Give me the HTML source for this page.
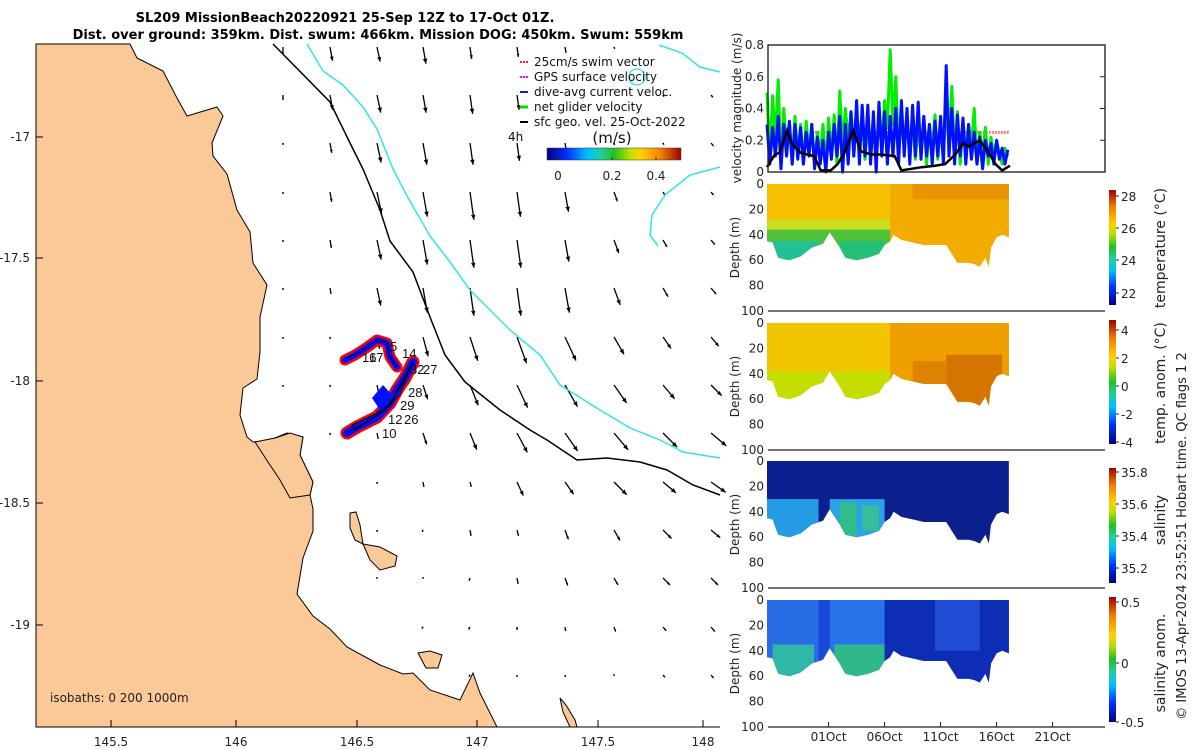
<!DOCTYPE html>
<html><head><meta charset="utf-8"><style>
html,body{margin:0;padding:0;background:#fff;}
svg{display:block;font-family:"DejaVu Sans","Liberation Sans",sans-serif;}
.t{font-size:12px;fill:#222;}
</style></head><body>
<svg id="fig" width="1200" height="750" viewBox="0 0 1200 750" xmlns="http://www.w3.org/2000/svg">
<defs>
<linearGradient id="jet" x1="0" y1="0" x2="1" y2="0">
<stop offset="0" stop-color="#00007f"/><stop offset="0.15" stop-color="#0030ff"/><stop offset="0.3" stop-color="#00c0ff"/><stop offset="0.4" stop-color="#20d0a0"/><stop offset="0.5" stop-color="#20c020"/><stop offset="0.62" stop-color="#c0e000"/><stop offset="0.7" stop-color="#ffd000"/><stop offset="0.85" stop-color="#f08000"/><stop offset="1" stop-color="#a00000"/></linearGradient>
<linearGradient id="jetv" x1="0" y1="1" x2="0" y2="0">
<stop offset="0" stop-color="#00007f"/><stop offset="0.15" stop-color="#0030ff"/><stop offset="0.3" stop-color="#00c0ff"/><stop offset="0.4" stop-color="#20d0a0"/><stop offset="0.5" stop-color="#20c020"/><stop offset="0.62" stop-color="#c0e000"/><stop offset="0.7" stop-color="#ffd000"/><stop offset="0.85" stop-color="#f08000"/><stop offset="1" stop-color="#a00000"/></linearGradient>
</defs>
<text x="345" y="22" text-anchor="middle" font-weight="bold" font-size="13">SL209 MissionBeach20220921 25-Sep 12Z to 17-Oct 01Z.</text>
<text x="378" y="39" text-anchor="middle" font-weight="bold" font-size="13">Dist. over ground: 359km. Dist. swum: 466km. Mission DOG: 450km. Swum: 559km</text>
<g id="map"></g>
<g id="right"></g>
<text transform="translate(1186,536) rotate(-90)" text-anchor="middle" font-size="13" fill="#222">© IMOS 13-Apr-2024 23:52:51 Hobart time. QC flags 1  2</text>
</svg>
<script>
const NS="http://www.w3.org/2000/svg";
// ---- map arrows data ----
const arrowCols=[283,330,377,423,470,517,565,614,663,711];
const arrowRows=[47,95,143,192,240,288,337,385,433,482,530,578,627,675];
const arrowLen=[
[7,14,15,17,12,10,6,2,0,0],[5,15,18,18,19,15,0,0,2,3],[2,10,20,22,22,18,16,2,2,4],
[2,10,22,25,28,25,20,10,4,4],[2,8,20,25,28,28,22,14,8,6],[2,6,18,25,28,28,25,18,10,8],
[2,2,12,20,25,28,26,20,14,12],[2,2,10,15,22,25,25,22,18,15],[0,2,6,12,18,22,22,22,20,20],
[0,0,2,5,5,15,15,18,17,18],[0,0,2,2,6,6,10,12,12,12],[0,0,1,1,3,6,8,8,10,10],
[0,0,0,2,3,3,4,5,5,6],[0,0,0,0,2,2,2,1,3,4]];
const arrowAng=[
[0,10,12,10,8,8,10,20,30,40],[0,10,12,10,8,8,10,20,30,40],[0,10,12,10,8,8,10,20,30,40],
[0,10,12,10,8,8,10,20,30,40],[0,10,12,10,8,8,10,20,30,40],[0,10,12,10,8,8,10,20,30,40],
[0,10,12,15,18,20,25,30,35,40],[0,10,12,18,22,25,30,35,40,45],[0,10,12,18,22,28,35,40,45,50],
[0,0,5,10,15,25,35,45,50,55],[0,0,5,-20,10,15,20,30,45,50],[0,0,0,-30,-20,10,20,30,45,45],
[0,0,0,-40,-30,0,10,20,40,40],[0,0,0,-40,-30,0,10,20,40,40]];
// ---- velocity data ----
const velStep=0.25;
const greenVals=[0.50,0.10,0.48,0.20,0.58,0.05,0.40,0.15,0.30,0.05,0.35,0.10,0.30,0.05,0.32,0.12,0.30,0.05,0.25,0.10,0.30,0.02,0.34,0.10,0.36,0.05,0.51,0.15,0.40,0.20,0.38,0.10,0.30,0.25,0.35,0.08,0.28,0.15,0.34,0.10,0.30,0.20,0.45,0.28,0.77,0.30,0.60,0.10,0.35,0.15,0.30,0.10,0.32,0.08,0.30,0.12,0.35,0.05,0.30,0.15,0.36,0.08,0.30,0.10,0.40,0.20,0.54,0.10,0.38,0.05,0.30,0.10,0.30,0.15,0.40,0.05,0.25,0.10,0.28,0.05,0.22,0.10,0.20,0.12,0.05,0.15,0.10];
const blueVals=[0.30,0.05,0.28,0.10,0.35,0.02,0.30,0.10,0.32,0.05,0.30,0.08,0.28,0.05,0.25,0.10,0.30,0.02,0.22,0.05,0.20,0.00,0.25,0.08,0.30,0.10,0.35,0.00,0.30,0.05,0.38,0.10,0.45,0.05,0.42,0.10,0.42,0.05,0.38,0.00,0.44,0.10,0.38,0.05,0.35,0.10,0.40,0.05,0.45,0.10,0.40,0.05,0.42,0.10,0.44,0.08,0.35,0.10,0.30,0.05,0.32,0.10,0.35,0.05,0.67,0.10,0.40,0.05,0.36,0.10,0.34,0.05,0.30,0.08,0.25,0.05,0.22,0.02,0.20,0.10,0.18,0.05,0.20,0.08,0.15,0.05,0.14];
const blackDays=[0,0.7,1.1,1.8,2.2,3,3.6,4.2,4.8,5.7,6.3,6.9,7.7,8.4,9.3,10.2,11.4,12,12.9,13.8,15,15.9,16.8,17.5,18,19,19.8,20.4,21,21.7];
const blackVals=[0.03,0.11,0.12,0.26,0.18,0.12,0.11,0.10,0.01,0.01,0.05,0.12,0.26,0.13,0.11,0.11,0.10,0.01,0.02,0.03,0.04,0.05,0.11,0.18,0.16,0.20,0.12,0.05,0.01,0.04];
const velTicks=[0,0.2,0.4,0.6,0.8];
// ---- section data ----
const bottomDays=[0,0.5,1,2,3,4,5,5.6,6.5,7,8,9,10,10.5,11,11.3,12,13,14,15,16,16.5,17,18,18.5,19,19.5,19.8,20,20.5,21,21.6];
const bottomDepth=[45,46,58,60,57,50,47,38,50,58,60,58,55,48,45,40,44,46,48,48,48,55,62,62,63,65,58,65,50,42,40,42];
const depthTicks=[0,20,40,60,80,100];
const dateTicks=["01Oct","06Oct","11Oct","16Oct","21Oct"];
const dateTickDays=[5.5,10.5,15.5,20.5,25.5];
const tempLayers=[[0,11,35,100,"#3cc040"],[0,4.6,45,100,"#20c0a0"],[6.5,10.5,45,100,"#20c080"],[0,11,28,36,"#c8e020"],[11,22,0,100,"#f2a800"],[13,21.6,0,12,"#e89000"]];
const tanomLayers=[[0,11,38,100,"#c0e000"],[11,22,0,100,"#ee9c00"],[16,21,25,100,"#d07000"],[13,16,30,100,"#dc8000"]];
const salLayers=[[0,4.6,30,100,"#28a8f0"],[5.6,10.5,30,100,"#30b0f0"],[6.5,8,33,60,"#30c080"],[8.5,10,35,55,"#38c090"]];
const sanomLayers=[[0,4.6,0,100,"#2a70e8"],[5.6,10.5,0,100,"#2a78ec"],[0.5,4.2,35,100,"#30c0a0"],[6,10.5,35,100,"#30c080"],[10.5,22,0,100,"#0c2ab0"],[15,19,0,40,"#2050d8"]];
const panels=[
 {top:184,base:"#f5c000",layers:tempLayers,cb:[190,305],cbTicks:["28","26","24","22"],cbTickY:[196,228,260,293],label:"temperature (°C)",labelY:248,name:"temperature"},
 {top:323,base:"#f2c400",layers:tanomLayers,cb:[320,444],cbTicks:["4","2","0","-2","-4"],cbTickY:[330,358,386,414,442],label:"temp. anom. (°C)",labelY:383,name:"temp-anomaly"},
 {top:461,base:"#0c1f8f",layers:salLayers,cb:[468,583],cbTicks:["35.8","35.6","35.4","35.2"],cbTickY:[472,504,536,568],label:"salinity",labelY:520,name:"salinity"},
 {top:600,base:"#1a48d8",layers:sanomLayers,cb:[597,722],cbTicks:["0.5","0","-0.5"],cbTickY:[602,663,722],label:"salinity anom.",labelY:663,name:"salinity-anomaly"}];

function el(tag,attrs,parent){const e=document.createElementNS(NS,tag);for(const k in attrs)e.setAttribute(k,attrs[k]);parent.appendChild(e);return e;}
const map=document.getElementById('map');
const right=document.getElementById('right');

// ---------- MAP ----------
// arrows
arrowRows.forEach((y,r)=>arrowCols.forEach((x,c)=>{
 const L=arrowLen[r][c]; if(L<=0)return;
 const a=arrowAng[r][c]*Math.PI/180;
 const ex=x+L*Math.sin(a), ey=y+L*Math.cos(a);
 const g=el('g',{},map);
 
 
 el('line',{x1:x,y1:y,x2:ex,y2:ey,stroke:'#000','stroke-width':1.3},g);
 const h=Math.max(2,Math.min(5,L*0.3)), ux=Math.sin(a), uy=Math.cos(a);
 el('polygon',{points:`${ex},${ey} ${ex-h*ux+h*0.45*uy},${ey-h*uy-h*0.45*ux} ${ex-h*ux-h*0.45*uy},${ey-h*uy+h*0.45*ux}`,fill:'#000'},g);
}));
// isobaths
const iso=[
 ['isobath-1000m','#000',"273,44 330,102 350,143 363,169 380,210 390,241 413,272 430,317 445,355 465,382 500,410 530,430 547,440 577,460 607,458 640,462 667,470 693,485 720,495"],
 ['isobath-200m','#2ee6e6',"307,44 323,71 343,85 363,107 377,129 393,169 407,196 430,236 450,262 470,290 510,330 540,355 560,385 600,410 630,428 660,440 683,452 720,458"],
 ['isobath-200m-reef','#2ee6e6',"659,45 682,53 700,67 720,72"],
 ['isobath-200m-reef-2','#2ee6e6',"720,167 690,175 665,195 652,215 650,235 658,246"]];
iso.forEach(d=>{const p=el('polyline',{points:d[2],fill:'none',stroke:d[1],'stroke-width':1.5},map);
 });
const loop=el('circle',{cx:637,cy:77,r:8,fill:'none',stroke:'#2ee6e6','stroke-width':1.3},map);

// land
const land=el('polygon',{points:"36,44 130,44 137,58 163,71 177,98 187,116 217,107 223,116 212,143 213,156 227,174 237,210 250,232 253,263 267,285 260,317 260,352 257,379 243,388 240,415 247,437 253,442 270,440 287,433 303,437 300,455 313,482 310,495 313,509 313,531 303,558 297,594 313,616 330,629 347,647 380,665 403,674 413,673 430,690 460,700 473,673 480,693 497,727 36,727",fill:'#fbc997',stroke:'#000','stroke-width':1},map);

[["island-hinchinbrook","255,442 275,438 290,433 303,437 300,455 313,482 310,495 290,498 280,480 268,462"],
 ["island-palm","350,513 356,512 360,525 363,544 355,540 350,528"],
 ["island-magnetic","363,544 380,547 397,556 395,566 380,570 370,560"],
 ["island-bottom","418,653 430,651 442,655 438,668 426,668"],
 ["island-spit","560,698 566,705 575,720 577,727 570,727 563,712"]].forEach(d=>{
 const p=el('polygon',{points:d[1],fill:'#fbc997',stroke:'#000','stroke-width':1},map);
 });
// glider track
const tg=el('g',{},map);


const hook="345,360 355,355 366,348 377,340 387,343 390,357 397,367";
const leg="413,362 405,378 397,390 390,403 377,417 357,427 347,433";
[[hook,'#ff0000',11],[leg,'#ff0000',13],[hook,'#0010ff',6],[leg,'#0010ff',8]].forEach(d=>el('polyline',{points:d[0],fill:'none',stroke:d[1],'stroke-width':d[2],'stroke-linejoin':'round','stroke-linecap':'round'},tg));
el('polygon',{points:"372,398 383,385 392,395 380,410",fill:'#0010ff'},tg);
el('polyline',{points:"347,358 360,352 377,340 387,343 390,357 397,367",fill:'none',stroke:'#000','stroke-width':1},tg);
el('polyline',{points:"347,433 370,420 390,405 400,385 413,362 405,380 385,410 355,430 352,425 380,412 400,395 410,368",fill:'none',stroke:'#000','stroke-width':1},tg);
[["5",390,351],["14",402,358],["16",362,362],["17",369,362],["32",410,374],["27",423,374],["28",408,397],["29",400,410],["26",404,424],["12",388,424],["10",382,438]].forEach(d=>{
 const t=el('text',{x:d[1],y:d[2],'font-size':13,fill:'#111','font-family':'Liberation Sans, sans-serif'},map);t.textContent=d[0];
 });
// axes
el('line',{x1:36,y1:44,x2:36,y2:727,stroke:'#000','stroke-width':1},map);
el('line',{x1:36,y1:727,x2:720,y2:727,stroke:'#000','stroke-width':1},map);
const lonT=["145.5","146","146.5","147","147.5","148"], lonX=[111,236,357,477,598,703];
lonT.forEach((s,i)=>{el('line',{x1:lonX[i],y1:727,x2:lonX[i],y2:720,stroke:'#000'},map);
 const t=el('text',{x:lonX[i],y:746,'text-anchor':'middle',class:'t'},map);t.textContent=s;
 });
const latT=["-17","-17.5","-18","-18.5","-19"], latY=[137,258,381,503,625];
latT.forEach((s,i)=>{el('line',{x1:36,y1:latY[i],x2:43,y2:latY[i],stroke:'#000'},map);
 const t=el('text',{x:30,y:latY[i]+4,'text-anchor':'end',class:'t'},map);t.textContent=s;
 });
const isoLab=el('text',{x:50,y:702,class:'t','font-size':12.5},map);isoLab.textContent="isobaths: 0   200  1000m";

// legend
const lg=el('g',{},map);


[["25cm/s swim vector","#ff2020"],["GPS surface velocity","#ff00ff"],["dive-avg current veloc.","#0020ff"],["net glider velocity","#00e000"],["sfc geo. vel. 25-Oct-2022","#000"]].forEach((d,i)=>{
 const y=62+i*15;
 el('line',{x1:520,y1:y,x2:528,y2:y,stroke:d[1],'stroke-width':i==3?3:2,'stroke-dasharray':i<2?'2 1':''},lg);
 const t=el('text',{x:534,y:y+4,'font-size':12,fill:'#111'},lg);t.textContent=d[0];
 });
const h4=el('text',{x:508,y:141,'font-size':12,fill:'#111'},lg);h4.textContent="4h";
const ms=el('text',{x:612,y:143,'text-anchor':'middle','font-size':15,fill:'#111'},lg);ms.textContent="(m/s)";
const mcb=el('rect',{x:547,y:148,width:134,height:12,fill:'url(#jet)',stroke:'#333','stroke-width':0.5},lg);

[["0",558],["0.2",612],["0.4",656]].forEach(d=>{const t=el('text',{x:d[1],y:180,'text-anchor':'middle',class:'t'},lg);t.textContent=d[0];
 el('line',{x1:d[1],y1:160,x2:d[1],y2:157,stroke:'#333'},lg);});

// ---------- RIGHT PANELS ----------
const X0=767, PX=11.2, XR=1105;
const xd=d=>X0+d*PX;
// top velocity
const VT=45, VB=172;
const yv=v=>VB-v/0.8*(VB-VT);
el('rect',{x:768,y:VT,width:XR-768,height:VB-VT,fill:'#fff',stroke:'#222','stroke-width':1.2},right);
el('line',{x1:xd(4),y1:yv(0.25),x2:xd(21.6),y2:yv(0.25),stroke:'#f08080','stroke-width':3,'stroke-dasharray':'2 1'},right);
function series(vals,step,color,w,name){
 const pts=vals.map((v,i)=>`${xd(i*step).toFixed(1)},${yv(v).toFixed(1)}`).join(' ');
 const p=el('polyline',{points:pts,fill:'none',stroke:color,'stroke-width':w,'stroke-linejoin':'round'},right);
 }
series(greenVals,velStep,'#00ee00',3,'net-glider-velocity-line');
series(blueVals,velStep,'#0010ff',3,'dive-avg-current-line');
const bl=el('polyline',{points:blackDays.map((d,i)=>`${xd(d).toFixed(1)},${yv(blackVals[i]).toFixed(1)}`).join(' '),fill:'none',stroke:'#000','stroke-width':2.5},right);

el('rect',{x:768,y:VT,width:XR-768,height:VB-VT,fill:'none',stroke:'#222','stroke-width':1.2},right);
velTicks.forEach(v=>{const t=el('text',{x:764,y:yv(v)+4,'text-anchor':'end',class:'t'},right);t.textContent=String(v);
 
 el('line',{x1:XR,y1:yv(v),x2:XR-5,y2:yv(v),stroke:'#222'},right);});
const vyl=el('text',{transform:`translate(741,108) rotate(-90)`,'text-anchor':'middle',class:'t'},right);vyl.textContent="velocity magnitude (m/s)";


// sections
panels.forEach((P,pi)=>{
 const yd=d=>P.top+d*1.27;
 const g=el('g',{},right);
 
 
 const cid='clip'+pi;
 const cp=el('clipPath',{id:cid},g);
 const poly=`${xd(0)},${yd(0)} ${xd(21.6)},${yd(0)} `+bottomDays.slice().reverse().map((d,i)=>{const j=bottomDays.length-1-i;return `${xd(d).toFixed(1)},${yd(bottomDepth[j]).toFixed(1)}`;}).join(' ');
 el('polygon',{points:poly},cp);
 const cg=el('g',{'clip-path':`url(#${cid})`},g);
 el('rect',{x:xd(0),y:yd(0),width:xd(21.6)-xd(0),height:yd(100)-yd(0),fill:P.base},cg);
 P.layers.forEach(L=>{const r=el('rect',{x:xd(L[0]),y:yd(L[2]),width:xd(L[1])-xd(L[0]),height:yd(L[3])-yd(L[2]),fill:L[4],opacity:0.9},cg);
  });
 el('line',{x1:768,y1:yd(100),x2:XR,y2:yd(100),stroke:'#222','stroke-width':1.2},g);
 depthTicks.forEach(d=>{const t=el('text',{x:764,y:yd(d)+4,'text-anchor':'end',class:'t'},g);t.textContent=String(d);
  });
 const yl=el('text',{transform:`translate(739,${yd(50)}) rotate(-90)`,'text-anchor':'middle',class:'t'},g);yl.textContent="Depth (m)";
 
 const cb=el('rect',{x:1109,y:P.cb[0],width:7,height:P.cb[1]-P.cb[0],fill:'url(#jetv)'},g);
 
 P.cbTicks.forEach((s,i)=>{const t=el('text',{x:1121,y:P.cbTickY[i]+5,class:'t','font-size':13},g);t.textContent=s;
  el('line',{x1:1116,y1:P.cbTickY[i],x2:1119,y2:P.cbTickY[i],stroke:'#222'},g);});
 const cl=el('text',{transform:`translate(1165,${P.labelY}) rotate(-90)`,'text-anchor':'middle','font-size':14,fill:'#222'},g);cl.textContent=P.label;
 
});
dateTicks.forEach((s,i)=>{const x=xd(dateTickDays[i]);
 el('line',{x1:x,y1:727,x2:x,y2:722,stroke:'#222'},right);
 const t=el('text',{x:x,y:741,'text-anchor':'middle',class:'t'},right);t.textContent=s;
 });
</script>
</body></html>
